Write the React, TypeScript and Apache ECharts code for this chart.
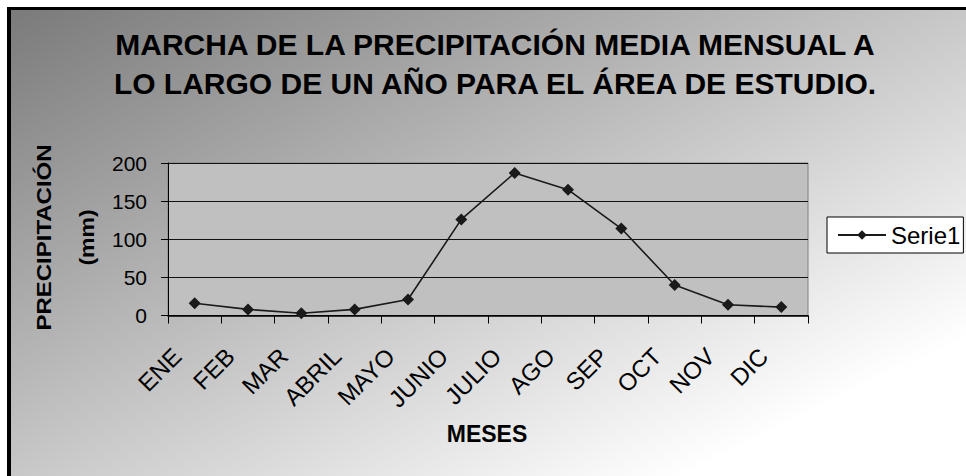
import React, { useEffect, useRef } from "react";
import * as echarts from "echarts";

const months = ["ENE", "FEB", "MAR", "ABRIL", "MAYO", "JUNIO", "JULIO", "AGO", "SEP", "OCT", "NOV", "DIC"];
const precip = [16, 8, 3, 8, 21, 126, 187, 165, 114, 40, 14, 11];
const yTicks = { min: 0, max: 200, interval: 50 };
const titleLines = [
  "MARCHA DE LA PRECIPITACIÓN MEDIA MENSUAL A",
  "LO LARGO DE UN AÑO PARA EL ÁREA DE ESTUDIO.",
];
const yTitleLines = ["PRECIPITACIÓN", "(mm)"];
const xTitle = "MESES";
const seriesName = "Serie1";

const FONT = "Arial, 'Liberation Sans', sans-serif";

export default function App() {
  const ref = useRef<HTMLDivElement>(null);
  useEffect(() => {
    if (!ref.current) return;
    const chart = echarts.init(ref.current, null, { renderer: "svg" });
    chart.setOption({
      animation: false,
      backgroundColor: "#ffffff",
      textStyle: { fontFamily: FONT },
      graphic: [
        {
          type: "rect",
          z: -10,
          silent: true,
          shape: { x: 9, y: 8, width: 960, height: 470 },
          style: {
            fill: new echarts.graphic.LinearGradient(0, 0, 1, 1, [
              { offset: 0, color: "#7a7a7a" },
              { offset: 0.45, color: "#c0c0c0" },
              { offset: 0.85, color: "#ffffff" },
              { offset: 1, color: "#ffffff" },
            ]),
          },
        },
        {
          type: "line",
          silent: true,
          shape: { x1: 9, y1: 7, x2: 9, y2: 476 },
          style: { stroke: "#000", lineWidth: 4 },
        },
        {
          type: "line",
          silent: true,
          shape: { x1: 7, y1: 8.5, x2: 966, y2: 8.5 },
          style: { stroke: "#000", lineWidth: 3 },
        },
        {
          type: "text",
          x: 495,
          y: 44.5,
          style: {
            text: titleLines[0],
            fontSize: 30,
            fontWeight: "bold",
            fontFamily: FONT,
            fill: "#000",
            align: "center",
            verticalAlign: "middle",
          },
        },
        {
          type: "text",
          x: 495,
          y: 83.5,
          style: {
            text: titleLines[1],
            fontSize: 30,
            fontWeight: "bold",
            fontFamily: FONT,
            fill: "#000",
            align: "center",
            verticalAlign: "middle",
          },
        },
        {
          type: "text",
          x: 44,
          y: 237.5,
          rotation: Math.PI / 2,
          scaleX: 1.2,
          style: {
            text: yTitleLines[0],
            fontSize: 20,
            fontWeight: "bold",
            fontFamily: FONT,
            fill: "#000",
            align: "center",
            verticalAlign: "middle",
          },
        },
        {
          type: "text",
          x: 87,
          y: 237.5,
          rotation: Math.PI / 2,
          scaleX: 1.15,
          style: {
            text: yTitleLines[1],
            fontSize: 20,
            fontWeight: "bold",
            fontFamily: FONT,
            fill: "#000",
            align: "center",
            verticalAlign: "middle",
          },
        },
        {
          type: "text",
          x: 487,
          y: 434,
          style: {
            text: xTitle,
            fontSize: 23,
            fontWeight: "bold",
            fontFamily: FONT,
            fill: "#000",
            align: "center",
            verticalAlign: "middle",
          },
        },
      ],
      legend: {
        show: true,
        left: 827,
        top: 217,
        orient: "vertical",
        backgroundColor: "#ffffff",
        borderColor: "#000",
        borderWidth: 1,
        borderRadius: 0,
        padding: [6, 3, 6, 10],
        itemWidth: 48,
        itemHeight: 12,
        textStyle: { fontSize: 24, color: "#000", fontFamily: FONT },
        data: [seriesName],
      },
      grid: {
        show: true,
        left: 168,
        top: 163,
        width: 640,
        height: 152.5,
        backgroundColor: "#c0c0c0",
        borderColor: "#808080",
        borderWidth: 1,
        containLabel: false,
      },
      xAxis: {
        type: "category",
        data: months,
        boundaryGap: true,
        axisLine: { show: true, lineStyle: { color: "#000", width: 1.5 } },
        axisTick: { show: true, length: 8, inside: false, alignWithLabel: false, lineStyle: { color: "#000" } },
        axisLabel: {
          interval: 0,
          rotate: 45,
          fontSize: 24,
          color: "#000",
          fontFamily: FONT,
          margin: 19,
          padding: [0, 25, 0, 0],
        },
        splitLine: { show: false },
      },
      yAxis: {
        type: "value",
        min: yTicks.min,
        max: yTicks.max,
        interval: yTicks.interval,
        axisLine: { show: true, lineStyle: { color: "#000", width: 1 } },
        axisTick: { show: true, length: 7, inside: false, lineStyle: { color: "#000" } },
        axisLabel: { fontSize: 21, color: "#000", fontFamily: FONT, margin: 21 },
        splitLine: { show: true, lineStyle: { color: "#111", width: 1 } },
      },
      series: [
        {
          name: seriesName,
          type: "line",
          data: precip,
          symbol: "diamond",
          symbolSize: 12,
          lineStyle: { color: "#1a1a1a", width: 1.6 },
          itemStyle: { color: "#1a1a1a" },
        },
      ],
    });
    return () => chart.dispose();
  }, []);
  return (
    <div
      ref={ref}
      style={{ position: "fixed", left: 0, top: 0, width: 966, height: 476 }}
    />
  );
}
